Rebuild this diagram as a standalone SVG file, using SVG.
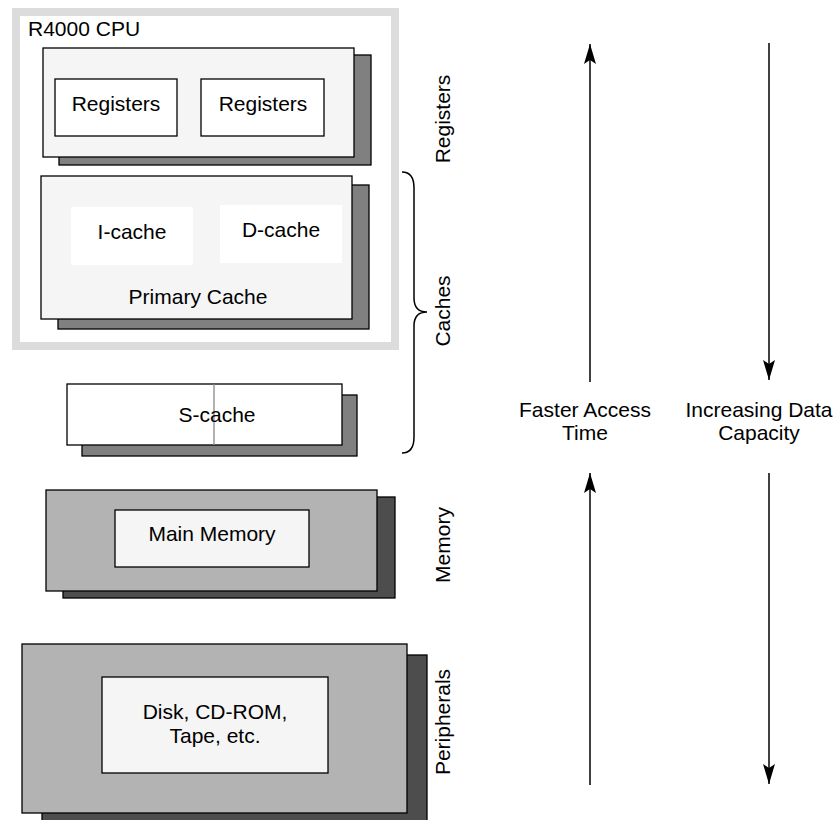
<svg xmlns="http://www.w3.org/2000/svg" width="836" height="820" viewBox="0 0 836 820">
<defs>
<style>
text{font-family:"Liberation Sans",Arial,sans-serif;font-size:21px;fill:#000}
.c{text-anchor:middle}
.front{stroke:#000;stroke-width:1.3}
.light{fill:#f5f5f5}
.sh1{fill:#808080;stroke:#000;stroke-width:1.3}
.sh2{fill:#4d4d4d;stroke:#000;stroke-width:1.3}
.mid{fill:#b3b3b3}
.box{fill:#fff;stroke:#000;stroke-width:1.3}
.ibox{fill:#f5f5f5;stroke:#000;stroke-width:1.3}
.arr{stroke:#000;stroke-width:1.5;fill:none}
</style>
<marker id="ah" markerUnits="userSpaceOnUse" viewBox="0 0 20 12" refX="20" refY="6" markerWidth="20" markerHeight="12" orient="auto">
<path d="M0,0 L20,6 L0,12 L4,6 z" fill="#000"/>
</marker>
</defs>
<rect width="836" height="820" fill="#fff"/>

<g id="cpu">
<rect x="16" y="12" width="379" height="334" fill="#fff" stroke="#dcdcdc" stroke-width="8"/>
<text x="28" y="36">R4000 CPU</text>
</g>

<g id="registers-block">
<rect class="sh1" x="59" y="55" width="312" height="110"/>
<rect class="front light" x="43" y="48" width="311" height="109"/>
<g id="reg1"><rect class="box" x="55" y="79" width="122" height="57"/><text class="c" x="116" y="111">Registers</text></g>
<g id="reg2"><rect class="box" x="201" y="79" width="123" height="57"/><text class="c" x="263" y="111">Registers</text></g>
</g>

<g id="primary-cache">
<rect class="sh1" x="58" y="185" width="311" height="144"/>
<rect class="front light" x="41" y="176" width="311" height="143"/>
<g id="icache"><rect x="71" y="207" width="122" height="58" fill="#fff"/><text class="c" x="132" y="239">I-cache</text></g>
<g id="dcache"><rect x="220" y="205" width="122" height="58" fill="#fff"/><text class="c" x="281" y="237">D-cache</text></g>
<text class="c" x="198" y="304">Primary Cache</text>
</g>

<g id="s-cache">
<rect class="sh1" x="82" y="395" width="275" height="61"/>
<rect class="box" x="67" y="384" width="275" height="61"/>
<line x1="214" y1="384" x2="214" y2="445" stroke="#888" stroke-width="1.3"/>
<text class="c" x="217" y="422">S-cache</text>
</g>

<g id="memory">
<rect class="sh2" x="63" y="497" width="332" height="101"/>
<rect class="front mid" x="46" y="490" width="331" height="101"/>
<rect class="ibox" x="115" y="510" width="194" height="57"/>
<text class="c" x="212" y="541">Main Memory</text>
</g>

<g id="peripherals">
<rect class="sh2" x="42" y="655" width="385" height="175"/>
<rect class="front mid" x="22" y="644" width="385" height="169"/>
<rect class="ibox" x="102" y="677" width="226" height="96"/>
<text class="c" x="215" y="719">Disk, CD-ROM,</text>
<text class="c" x="215" y="743">Tape, etc.</text>
</g>

<g id="level-labels">
<text class="c" transform="translate(450,119) rotate(-90)">Registers</text>
<text class="c" transform="translate(450,311) rotate(-90)">Caches</text>
<text class="c" transform="translate(450,545) rotate(-90)">Memory</text>
<text class="c" transform="translate(450,722) rotate(-90)">Peripherals</text>
</g>

<g id="connectors">
<path class="arr" d="M402,172 Q414,172 414,188 L414,298 Q414,312 427,312 Q414,312 414,326 L414,437 Q414,453 402,453" stroke-width="1.3"/>
<line class="arr" x1="590" y1="382" x2="590" y2="44" marker-end="url(#ah)"/>
<line class="arr" x1="590" y1="785" x2="590" y2="473" marker-end="url(#ah)"/>
<line class="arr" x1="769" y1="43" x2="769" y2="380" marker-end="url(#ah)"/>
<line class="arr" x1="769" y1="473" x2="769" y2="784" marker-end="url(#ah)"/>
</g>

<g id="axis-labels">
<text class="c" x="585" y="417">Faster Access</text>
<text class="c" x="585" y="440">Time</text>
<text class="c" x="759" y="417">Increasing Data</text>
<text class="c" x="759" y="440">Capacity</text>
</g>
</svg>
